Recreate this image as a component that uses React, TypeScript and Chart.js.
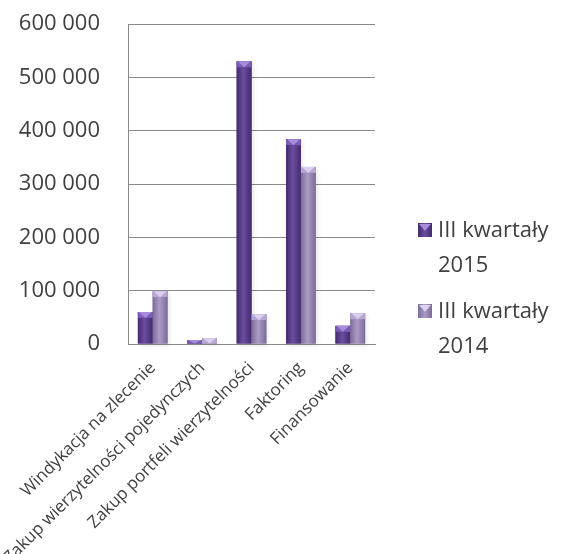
import React, { useEffect, useRef } from "react";
import { Chart, registerables } from "chart.js";

Chart.register(...registerables);

const categories = [
  "Windykacja na zlecenie",
  "Zakup wierzytelności pojedynczych",
  "Zakup portfeli wierzytelności",
  "Faktoring",
  "Finansowanie",
];
const values2015 = [60000, 7500, 530000, 384000, 34000];
const values2014 = [99000, 11000, 56000, 332000, 57500];
const seriesNames = ["III kwartały 2015", "III kwartały 2014"];
const legendLines = [
  ["III kwartały", "2015"],
  ["III kwartały", "2014"],
];
const yTickValues = [0, 100000, 200000, 300000, 400000, 500000, 600000];

const palettes = [
  { base: "#5b3d8e", edge: "#432a6e", mid: "#6b4da0", cap: "#7b5cb6", tri: "#a78bdc" },
  { base: "#9a89b6", edge: "#7b6b98", mid: "#ab9bc6", cap: "#b6a6d2", tri: "#dcd0f0" },
];

const TEXT = "#404040";
const FONT = "'Open Sans', sans-serif";

function fmt(v: number): string {
  const s = String(Math.round(v));
  return s.replace(/\B(?=(\d{3})+(?!\d))/g, " ");
}

const barStyle = {
  id: "barStyle",
  beforeDatasetsDraw(chart: any) {
    const ctx = chart.ctx;
    ctx.save();
    chart.data.datasets.forEach((_: any, di: number) => {
      const meta = chart.getDatasetMeta(di);
      meta.data.forEach((el: any) => {
        const { x, y, base, width } = el.getProps(["x", "y", "base", "width"], true);
        ctx.save();
        ctx.shadowColor = "rgba(0,0,0,0.35)";
        ctx.shadowBlur = 4;
        ctx.shadowOffsetX = 2;
        ctx.shadowOffsetY = 2;
        ctx.fillStyle = "rgba(0,0,0,0.25)";
        ctx.fillRect(x - width / 2, y, width, base - y);
        ctx.restore();
      });
    });
    ctx.restore();
  },
  afterDatasetsDraw(chart: any) {
    const ctx = chart.ctx;
    ctx.save();
    chart.data.datasets.forEach((_: any, di: number) => {
      const meta = chart.getDatasetMeta(di);
      const p = palettes[di];
      meta.data.forEach((el: any) => {
        const { x, y, base, width } = el.getProps(["x", "y", "base", "width"], true);
        const left = x - width / 2;
        const h = base - y;
        const g = ctx.createLinearGradient(left, 0, left + width, 0);
        g.addColorStop(0, p.edge);
        g.addColorStop(0.45, p.mid);
        g.addColorStop(1, p.edge);
        ctx.fillStyle = g;
        ctx.fillRect(left, y, width, h);
        const capH = Math.min(width * 0.4, h);
        ctx.fillStyle = p.cap;
        ctx.fillRect(left, y, width, capH);
        ctx.beginPath();
        ctx.moveTo(left + 1, y);
        ctx.lineTo(left + width - 1, y);
        ctx.lineTo(x, y + capH);
        ctx.closePath();
        ctx.fillStyle = p.tri;
        ctx.fill();
      });
    });
    ctx.restore();
  },
};

const customLegend = {
  id: "customLegend",
  afterDraw(chart: any) {
    const ctx = chart.ctx;
    const area = chart.chartArea;
    ctx.save();
    ctx.font = `22px ${FONT}`;
    ctx.textBaseline = "alphabetic";
    ctx.textAlign = "left";
    const boxX = area.right + 43;
    const textX = area.right + 63;
    let yb = area.bottom - 107;
    legendLines.forEach((lines, i) => {
      const p = palettes[i];
      const bs = 14;
      const by = yb - bs;
      const g = ctx.createLinearGradient(boxX, 0, boxX + bs, 0);
      g.addColorStop(0, p.edge);
      g.addColorStop(0.5, p.mid);
      g.addColorStop(1, p.edge);
      ctx.fillStyle = g;
      ctx.fillRect(boxX, by, bs, bs);
      ctx.beginPath();
      ctx.moveTo(boxX + 1, by + 1);
      ctx.lineTo(boxX + bs - 1, by + 1);
      ctx.lineTo(boxX + bs / 2, by + bs * 0.55);
      ctx.closePath();
      ctx.fillStyle = p.tri;
      ctx.fill();
      ctx.fillStyle = TEXT;
      lines.forEach((t, li) => {
        ctx.fillText(t, textX, yb + li * 35);
      });
      yb += 81;
    });
    ctx.restore();
  },
};

export default function App() {
  const ref = useRef<HTMLCanvasElement | null>(null);
  useEffect(() => {
    if (!ref.current) return;
    const chart = new Chart(ref.current, {
      type: "bar",
      data: {
        labels: categories,
        datasets: [
          { label: seriesNames[0], data: values2015, backgroundColor: palettes[0].base, borderWidth: 0 },
          { label: seriesNames[1], data: values2014, backgroundColor: palettes[1].base, borderWidth: 0 },
        ],
      },
      options: {
        responsive: false,
        animation: false,
        devicePixelRatio: 1,
        layout: { padding: { top: 24, right: 187, left: 0, bottom: 0 } },
        datasets: { bar: { categoryPercentage: 0.6, barPercentage: 1.0 } },
        plugins: { legend: { display: false }, tooltip: { enabled: false } },
        scales: {
          x: {
            grid: { display: false, drawTicks: false },
            border: { display: true, color: "#8a8a8a", width: 1 },
            ticks: {
              autoSkip: false,
              minRotation: 45,
              maxRotation: 45,
              padding: 14,
              color: TEXT,
              font: { family: FONT, size: 17 },
            },
            afterFit: (s: any) => {
              s.height = 210;
              s.paddingLeft = 0;
              s.paddingRight = 0;
              s.paddingTop = 0;
              s.paddingBottom = 0;
            },
          },
          y: {
            min: 0,
            max: 600000,
            afterBuildTicks: (s: any) => {
              s.ticks = yTickValues.map((v) => ({ value: v }));
            },
            grid: { color: "#8a8a8a", lineWidth: 1, drawTicks: false },
            border: { display: true, color: "#8a8a8a", width: 1 },
            ticks: {
              padding: 28,
              color: TEXT,
              font: { family: FONT, size: 22 },
              callback: (v: any) => fmt(Number(v)),
            },
            afterFit: (s: any) => {
              s.width = 128;
              s.paddingLeft = 0;
              s.paddingRight = 0;
              s.paddingTop = 0;
              s.paddingBottom = 0;
            },
          },
        },
      },
      plugins: [barStyle, customLegend],
    });
    return () => chart.destroy();
  }, []);
  return (
    <div style={{ position: "absolute", left: 0, top: 0, width: 562, height: 554, background: "#ffffff" }}>
      <canvas ref={ref} width={562} height={554} style={{ width: 562, height: 554 }} />
    </div>
  );
}
